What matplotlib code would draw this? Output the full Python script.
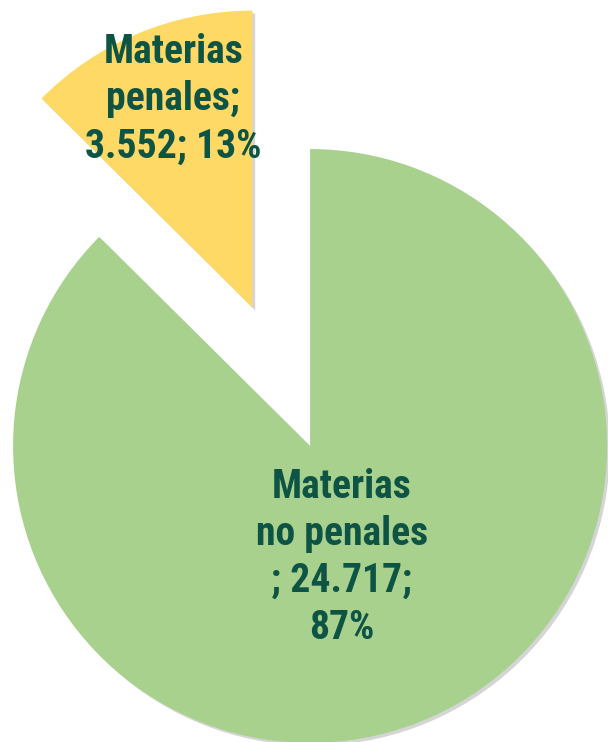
import numpy as np
import matplotlib
matplotlib.use("Agg")
from matplotlib import pyplot as plt
import matplotlib.patheffects as pe

# datos del grafico
categorias = ["Materias penales", "Materias no penales"]
valores = [3552, 24717]
etiquetas = ["Materias\npenales;\n3.552; 13%", "Materias\nno penales\n; 24.717;\n87%"]
colores = ["#FFD966", "#A9D18E"]

fig = plt.figure(figsize=(6.08, 7.42), dpi=100)
ax = fig.add_axes([0, 0, 1, 1])

wedges, _ = ax.pie(valores, colors=colores, startangle=90, counterclock=True,
                   explode=(0.505, 0), radius=1.0, center=(0, 0))

# sombra suave como en el original
for w in wedges:
    w.set_path_effects([pe.SimplePatchShadow(offset=(2, -2), shadow_rgbFace="#888888", alpha=0.35),
                        pe.Normal()])

ax.set_aspect("auto")
ax.set_xlim(-1.044, 1.003)
ax.set_ylim(-0.997, 1.502)
ax.axis("off")

# posicion de etiquetas (distancia relativa, angulo)
pos_etq = [(0.75, 110.8), (0.39, -74.0)]
for w, txt, (d, ang) in zip(wedges, etiquetas, pos_etq):
    cx, cy = w.center
    x = cx + d * np.cos(np.radians(ang))
    y = cy + d * np.sin(np.radians(ang))
    ax.text(x, y, txt, ha="center", va="center", multialignment="center",
            fontsize=28.5, fontweight="bold", color="#0E5444", linespacing=1.3,
            family=["Roboto Condensed", "Liberation Sans", "DejaVu Sans"])

fig.savefig("out.png", dpi=100)
